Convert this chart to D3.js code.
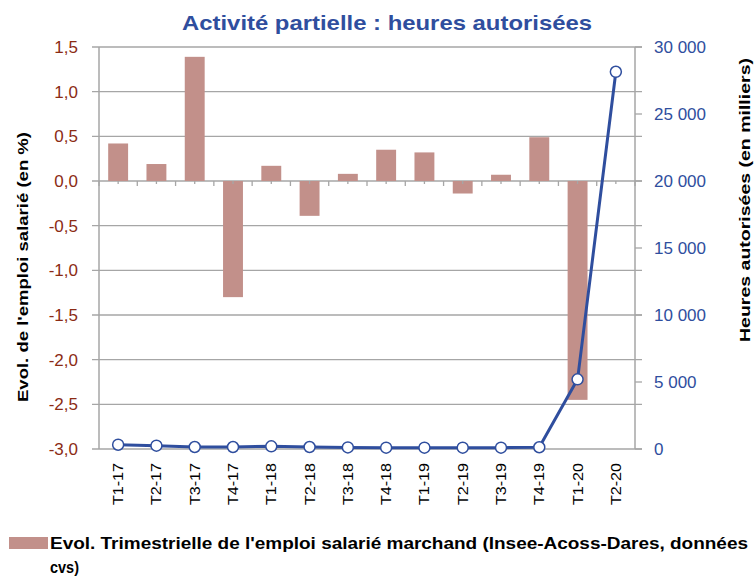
<!DOCTYPE html>
<html>
<head>
<meta charset="utf-8">
<script src="https://cdn.jsdelivr.net/npm/d3@7"></script>
<style>
  body { margin: 0; background: #fff; }
  text { font-family: "Liberation Sans", Arial, sans-serif; }
</style>
</head>
<body>
<svg id="chart" width="754" height="578"></svg>
<script>
// data
const quarters = ["T1-17","T2-17","T3-17","T4-17","T1-18","T2-18","T3-18","T4-18",
                  "T1-19","T2-19","T3-19","T4-19","T1-20","T2-20"];
const emploi = [0.42, 0.19, 1.39, -1.30, 0.17, -0.39, 0.08, 0.35, 0.32, -0.14, 0.07, 0.49, -2.45, null];
const heures = [320, 250, 150, 150, 200, 150, 120, 100, 100, 100, 100, 130, 5200, 28150];
const leftTicks = [1.5, 1.0, 0.5, 0.0, -0.5, -1.0, -1.5, -2.0, -2.5, -3.0];
const rightTicks = [0, 5000, 10000, 15000, 20000, 25000, 30000];

const svg = d3.select("#chart");
const margin = {top: 47, right: 119, bottom: 129, left: 99},
    width = 754 - margin.left - margin.right,
    height = 578 - margin.top - margin.bottom;

const g = svg.append("g")
             .attr("transform", "translate(" + margin.left + "," + margin.top + ")");

const x = d3.scaleBand().domain(quarters).range([0, width]);
const yL = d3.scaleLinear().domain([-3, 1.5]).range([height, 0]);
const yR = d3.scaleLinear().domain([0, 30000]).range([height, 0]);

const blue = "#2F4E9E", red = "#8B2B14", gridc = "#A6A6A6", barc = "#C2908A";
const fmtL = d => d3.format(".1f")(d).replace(".", ",").replace("−", "-");
const fmtR = d => d3.format(",")(d).replace(/,/g, " ");

// gridlines
g.selectAll(".grid")
 .data(leftTicks)
 .enter()
 .append("line")
 .attr("x1", -7)
 .attr("x2", width + 7)
 .attr("y1", d => yL(d))
 .attr("y2", d => yL(d))
 .attr("stroke", gridc)
 .attr("stroke-width", 1.3)

// right ticks
g.selectAll(".rtick")
 .data(rightTicks)
 .enter()
 .append("line")
 .attr("x1", width)
 .attr("x2", width + 7)
 .attr("y1", d => yR(d))
 .attr("y2", d => yR(d))
 .attr("stroke", gridc)
 .attr("stroke-width", 1.3)

// axis lines
g.append("line").attr("x1", 0).attr("x2", 0).attr("y1", 0).attr("y2", height)
 .attr("stroke", gridc).attr("stroke-width", 1.5)
g.append("line").attr("x1", width).attr("x2", width).attr("y1", 0).attr("y2", height)
 .attr("stroke", gridc).attr("stroke-width", 1.5)

// bars
g.selectAll(".bar")
 .data(quarters.map((q, i) => ({q: q, v: emploi[i]})).filter(d => d.v != null))
 .enter()
 .append("rect")
 .attr("x", d => x(d.q) + x.bandwidth() * 0.24)
 .attr("width", x.bandwidth() * 0.52)
 .attr("y", d => yL(Math.max(0, d.v)))
 .attr("height", d => Math.abs(yL(d.v) - yL(0)))
 .attr("fill", barc)

// x axis ticks on zero line
const zeroY = yL(0);
g.selectAll(".xtick")
 .data(d3.range(quarters.length + 1))
 .enter()
 .append("line")
 .attr("x1", i => i * x.bandwidth())
 .attr("x2", i => i * x.bandwidth())
 .attr("y1", zeroY)
 .attr("y2", zeroY + 5)
 .attr("stroke", gridc)
 .attr("stroke-width", 1.3)
g.selectAll(".xmtick")
 .data(quarters)
 .enter()
 .append("line")
 .attr("x1", d => x(d) + x.bandwidth() / 2)
 .attr("x2", d => x(d) + x.bandwidth() / 2)
 .attr("y1", zeroY)
 .attr("y2", zeroY + 3)
 .attr("stroke", gridc)
 .attr("stroke-width", 1.3)

// line
const line = d3.line()
               .x((d, i) => x(quarters[i]) + x.bandwidth() / 2)
               .y(d => yR(d))
g.append("path")
 .datum(heures)
 .attr("d", line)
 .attr("fill", "none")
 .attr("stroke", blue)
 .attr("stroke-width", 3)

g.selectAll(".dot")
 .data(heures)
 .enter()
 .append("circle")
 .attr("cx", (d, i) => x(quarters[i]) + x.bandwidth() / 2)
 .attr("cy", d => yR(d))
 .attr("r", 5.5)
 .attr("fill", "#fff")
 .attr("stroke", blue)
 .attr("stroke-width", 1.5)

// left tick labels
g.selectAll(".ltext")
 .data(leftTicks)
 .enter()
 .append("text")
 .attr("x", -21)
 .attr("y", d => yL(d))
 .attr("dy", "0.35em")
 .attr("text-anchor", "end")
 .attr("font-size", 17)
 .attr("fill", red)
 .text(d => fmtL(d))

// right tick labels
g.selectAll(".rtext")
 .data(rightTicks)
 .enter()
 .append("text")
 .attr("x", width + 19)
 .attr("y", d => yR(d))
 .attr("dy", "0.35em")
 .attr("font-size", 17)
 .attr("fill", blue)
 .text(d => fmtR(d))

// x labels
g.selectAll(".xtext")
 .data(quarters)
 .enter()
 .append("text")
 .attr("transform", d => "translate(" + (x(d) + x.bandwidth() / 2 + 5) + "," + (height + 14) + ") rotate(-90)")
 .attr("text-anchor", "end")
 .attr("font-size", 14)
 .attr("textLength", 42)
 .attr("lengthAdjust", "spacingAndGlyphs")
 .attr("fill", "#000")
 .text(d => d)

// title
svg.append("text")
   .attr("x", 387)
   .attr("y", 30)
   .attr("text-anchor", "middle")
   .attr("font-size", 21)
   .attr("font-weight", "bold")
   .attr("textLength", 410)
   .attr("lengthAdjust", "spacingAndGlyphs")
   .attr("fill", blue)
   .text("Activité partielle : heures autorisées")

// axis titles
svg.append("text")
   .attr("transform", "translate(28,267) rotate(-90)")
   .attr("text-anchor", "middle")
   .attr("font-size", 15)
   .attr("font-weight", "bold")
   .attr("textLength", 270)
   .attr("lengthAdjust", "spacingAndGlyphs")
   .text("Evol. de l'emploi salarié (en %)")

svg.append("text")
   .attr("transform", "translate(750,200) rotate(-90)")
   .attr("text-anchor", "middle")
   .attr("font-size", 15)
   .attr("font-weight", "bold")
   .attr("textLength", 284)
   .attr("lengthAdjust", "spacingAndGlyphs")
   .text("Heures autorisées (en milliers)")

// legend
svg.append("rect")
   .attr("x", 9)
   .attr("y", 537)
   .attr("width", 39)
   .attr("height", 12)
   .attr("fill", barc)
svg.append("text")
   .attr("x", 50)
   .attr("y", 549)
   .attr("font-size", 16)
   .attr("font-weight", "bold")
   .attr("textLength", 698)
   .attr("lengthAdjust", "spacingAndGlyphs")
   .text("Evol. Trimestrielle de l'emploi salarié marchand (Insee-Acoss-Dares, données")
svg.append("text")
   .attr("x", 50)
   .attr("y", 573)
   .attr("font-size", 16)
   .attr("font-weight", "bold")
   .attr("textLength", 29)
   .attr("lengthAdjust", "spacingAndGlyphs")
   .text("cvs)")
</script>
</body>
</html>
